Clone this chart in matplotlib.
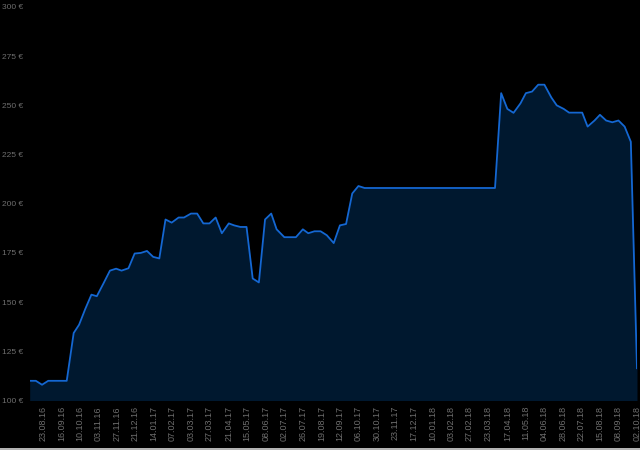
import matplotlib
matplotlib.use("Agg")
import matplotlib.pyplot as plt
import pandas as pd

# price history (date, euro)
dates = [
    "2016-08-06", "2016-08-14", "2016-08-22", "2016-08-30", "2016-09-06", "2016-09-14",
    "2016-09-23", "2016-10-02", "2016-10-09", "2016-10-17", "2016-10-25", "2016-11-01",
    "2016-11-10", "2016-11-18", "2016-11-26", "2016-12-03", "2016-12-12", "2016-12-20",
    "2016-12-28", "2017-01-05", "2017-01-13", "2017-01-21", "2017-01-29", "2017-02-06",
    "2017-02-15", "2017-02-22", "2017-03-03", "2017-03-11", "2017-03-19", "2017-03-27",
    "2017-04-04", "2017-04-12", "2017-04-21", "2017-04-28", "2017-05-06", "2017-05-14",
    "2017-05-22", "2017-05-30", "2017-06-07", "2017-06-15", "2017-06-22", "2017-07-02",
    "2017-07-10", "2017-07-17", "2017-07-26", "2017-08-02", "2017-08-10", "2017-08-18",
    "2017-08-26", "2017-09-04", "2017-09-12", "2017-09-20", "2017-09-28", "2017-10-06",
    "2017-10-14", "2018-04-01", "2018-04-09", "2018-04-17", "2018-04-25", "2018-05-04",
    "2018-05-11", "2018-05-19", "2018-05-27", "2018-06-04", "2018-06-13", "2018-06-20",
    "2018-06-29", "2018-07-06", "2018-07-14", "2018-07-23", "2018-07-30", "2018-08-08",
    "2018-08-15", "2018-08-23", "2018-08-31", "2018-09-08", "2018-09-16", "2018-09-24",
    "2018-10-02",
]
prices = [
    110, 110, 108, 110, 110, 110,
    110, 134.3, 138.5, 146.5, 153.8, 153,
    159.8, 166, 167, 166, 167.2, 174.7,
    175, 176, 173, 172.2, 192, 190.4,
    193, 193, 195, 195, 190, 190,
    193, 185, 190, 189, 188.2, 188.2,
    162, 160, 192, 195, 187, 183,
    183, 183, 187, 185, 186, 186,
    184, 180, 189, 189.7, 205.2, 209,
    208, 208, 256.2, 248.2, 246.2, 251,
    256.2, 257, 260.5, 260.5, 254, 250,
    248.2, 246.3, 246.3, 246.3, 239.2, 242.3,
    245.2, 242.3, 241.4, 242.3, 239.2, 231.5,
    116.4,
]

tick_labels = [
    "23.08.16", "16.09.16", "10.10.16", "03.11.16", "27.11.16", "21.12.16", "14.01.17",
    "07.02.17", "03.03.17", "27.03.17", "21.04.17", "15.05.17", "08.06.17", "02.07.17",
    "26.07.17", "19.08.17", "12.09.17", "06.10.17", "30.10.17", "23.11.17", "17.12.17",
    "10.01.18", "03.02.18", "27.02.18", "23.03.18", "17.04.18", "11.05.18", "04.06.18",
    "28.06.18", "22.07.18", "15.08.18", "08.09.18", "02.10.18",
]
y_ticks = [100, 125, 150, 175, 200, 225, 250, 275, 300]

x = pd.to_datetime(dates)
tick_pos = pd.to_datetime(tick_labels, format="%d.%m.%y")

plt.rcParams["font.family"] = ["Liberation Sans", "DejaVu Sans"]

fig = plt.figure(figsize=(6.4, 4.5), dpi=100, facecolor="black")
ax = fig.add_axes([0.0464, 0.11, 0.9489, 0.8745])
ax.set_facecolor("black")

ax.fill_between(x, prices, 100, color="#00182f", linewidth=0)
ax.plot(x, prices, color="#1467d2", linewidth=1.3)

ax.set_xlim(x[0], x[-1])
ax.set_ylim(100, 300)

ax.set_yticks(y_ticks)
ax.set_yticklabels([f"{v} €" for v in y_ticks], ha="left")
ax.set_xticks(tick_pos)
ax.set_xticklabels(tick_labels, rotation=90)

ax.tick_params(axis="y", length=0, pad=20, labelsize=6, labelcolor="#6e6e6e")
ax.tick_params(axis="x", length=0, pad=4, labelsize=6.5, labelcolor="#6e6e6e")
for s in ax.spines.values():
    s.set_visible(False)

# thin light strip at the very bottom
fig.add_artist(plt.Line2D([0, 1], [0.003, 0.003], color="#d8d8d8", linewidth=1.2))

fig.savefig("out.png", dpi=100, facecolor="black")
